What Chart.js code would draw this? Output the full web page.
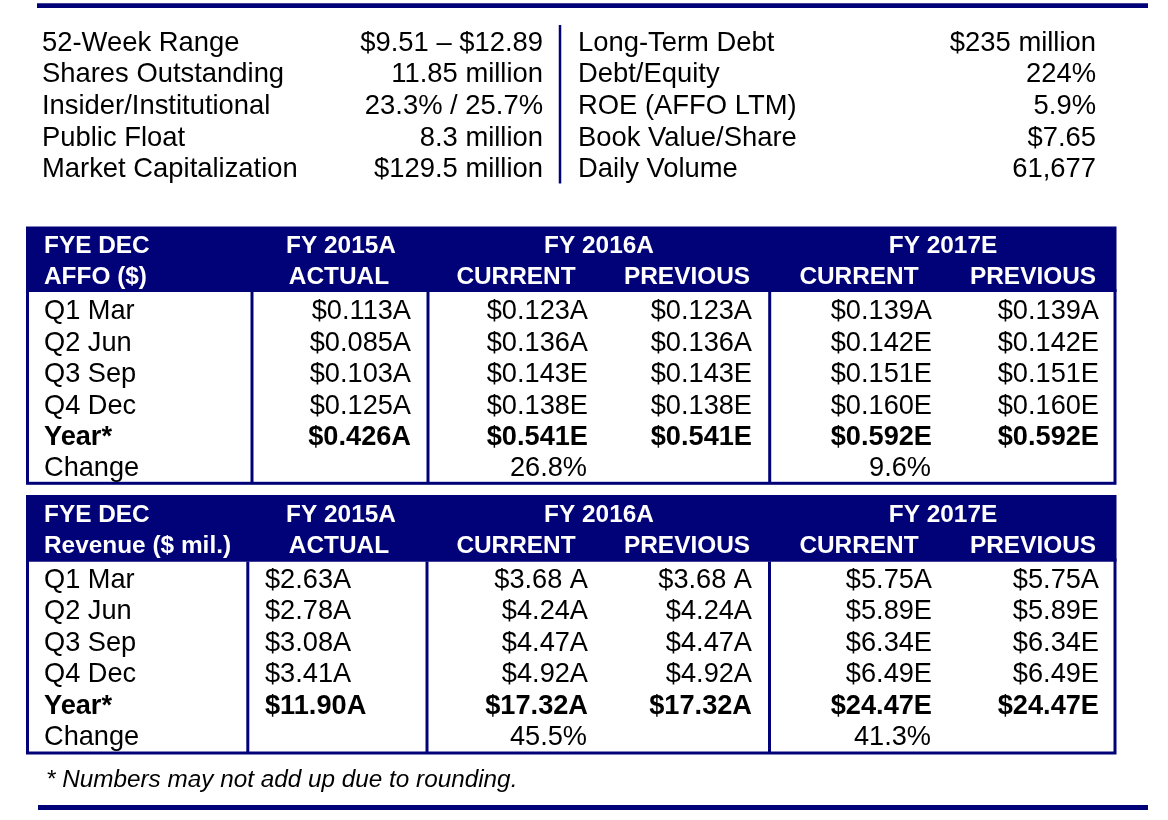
<!DOCTYPE html>
<html>
<head>
<meta charset="utf-8">
<script src="https://cdn.jsdelivr.net/npm/chart.js@4"></script>
<style>
  html, body { margin: 0; padding: 0; background: #ffffff; }
  #wrap { width: 1168px; height: 820px; }
  canvas { display: block; }
</style>
</head>
<body>
<div id="wrap"><canvas id="c" width="1168" height="820"></canvas></div>
<script>
// ---------------- DATA ----------------
const statLabelsLeft  = ['52-Week Range', 'Shares Outstanding', 'Insider/Institutional', 'Public Float', 'Market Capitalization'];
const statValuesLeft  = ['$9.51 – $12.89', '11.85 million', '23.3% / 25.7%', '8.3 million', '$129.5 million'];
const statLabelsRight = ['Long-Term Debt', 'Debt/Equity', 'ROE (AFFO LTM)', 'Book Value/Share', 'Daily Volume'];
const statValuesRight = ['$235 million', '224%', '5.9%', '$7.65', '61,677'];

const rowLabels   = ['Q1 Mar', 'Q2 Jun', 'Q3 Sep', 'Q4 Dec', 'Year*', 'Change'];
const yearHeaders = ['FY 2015A', 'FY 2016A', 'FY 2017E'];
const subHeaders  = ['ACTUAL', 'CURRENT', 'PREVIOUS', 'CURRENT', 'PREVIOUS'];
const affoTitle    = ['FYE DEC', 'AFFO ($)'];
const revenueTitle = ['FYE DEC', 'Revenue ($ mil.)'];

// AFFO per share ($): Q1..Q4, Year
const affo2015Actual   = [0.113, 0.085, 0.103, 0.125, 0.426];
const affo2015Flags    = ['A', 'A', 'A', 'A', 'A'];
const affo2016Current  = [0.123, 0.136, 0.143, 0.138, 0.541];
const affo2016Previous = [0.123, 0.136, 0.143, 0.138, 0.541];
const affo2016Flags    = ['A', 'A', 'E', 'E', 'E'];
const affo2017Current  = [0.139, 0.142, 0.151, 0.160, 0.592];
const affo2017Previous = [0.139, 0.142, 0.151, 0.160, 0.592];
const affo2017Flags    = ['A', 'E', 'E', 'E', 'E'];
const affoChange       = [null, 26.8, 9.6];

// Revenue ($ mil.): Q1..Q4, Year
const rev2015Actual   = [2.63, 2.78, 3.08, 3.41, 11.90];
const rev2015Flags    = ['A', 'A', 'A', 'A', 'A'];
const rev2016Current  = [3.68, 4.24, 4.47, 4.92, 17.32];
const rev2016Previous = [3.68, 4.24, 4.47, 4.92, 17.32];
const rev2016Flags    = [' A', 'A', 'A', 'A', 'A'];
const rev2017Current  = [5.75, 5.89, 6.34, 6.49, 24.47];
const rev2017Previous = [5.75, 5.89, 6.34, 6.49, 24.47];
const rev2017Flags    = ['A', 'E', 'E', 'E', 'E'];
const revChange       = [null, 45.5, 41.3];

const footnote = '* Numbers may not add up due to rounding.';

// ---------------- LAYOUT / STYLE ----------------
const NAVY = '#020278';
const FONT = '"Liberation Sans", Arial, sans-serif';
const L = {
  topRule: { x0: 37, x1: 1148, y: 5.7, w: 4.8 },
  botRule: { x0: 38, x1: 1148, y: 807.5, w: 5 },
  stats: { rows: [50.8, 82.3, 113.9, 145.5, 177], lx: 42, lvx: 543, rx: 578, rvx: 1096, divX: 560, divY0: 25, divY1: 183.5, size: 27.4 },
  tables: [
    { hy0: 226.5, hy1: 292, by1: 483.3, vlines: [252, 428, 769.7], hRows: [253, 284],
      rows: [319.3, 350.7, 382.2, 413.7, 445, 476.3], firstColLeft: null },
    { hy0: 495, hy1: 561.5, by1: 753, vlines: [247.8, 427, 769.5], hRows: [521.8, 552.8],
      rows: [587.6, 619, 650.5, 682, 713.5, 745], firstColLeft: 265 }
  ],
  x0: 26, x1: 1116.5,
  titleX: 44,
  yearCenters: [341, 599, 943],
  subCenters: [339, 516, 687, 859, 1033],
  colRight: [411, 588, 752, 932, 1099],
  bodySize: 27.2, headSize: 24.4,
  foot: { x: 46, y: 786.5, size: 24.3 }
};

function fmt(v, d, flag) { return '$' + v.toFixed(d) + flag; }

const tablesData = [
  { title: affoTitle, dec: 3,
    cols: [[affo2015Actual, affo2015Flags], [affo2016Current, affo2016Flags], [affo2016Previous, affo2016Flags],
           [affo2017Current, affo2017Flags], [affo2017Previous, affo2017Flags]],
    change: affoChange },
  { title: revenueTitle, dec: 2,
    cols: [[rev2015Actual, rev2015Flags], [rev2016Current, rev2016Flags], [rev2016Previous, rev2016Flags],
           [rev2017Current, rev2017Flags], [rev2017Previous, rev2017Flags]],
    change: revChange }
];

// ---------------- PLUGIN ----------------
const tablePlugin = {
  id: 'tablePlugin',
  afterDraw(chart) {
    const ctx = chart.ctx;
    const xs = chart.scales.x, ys = chart.scales.y;
    const X = v => xs.getPixelForValue(v);
    const Y = v => ys.getPixelForValue(v);
    ctx.save();
    ctx.textBaseline = 'alphabetic';

    const line = (x0, y0, x1, y1, w, col) => {
      ctx.beginPath(); ctx.strokeStyle = col; ctx.lineWidth = w;
      ctx.moveTo(X(x0), Y(y0)); ctx.lineTo(X(x1), Y(y1)); ctx.stroke();
    };
    const text = (s, x, y, align, font, col) => {
      ctx.font = font; ctx.fillStyle = col; ctx.textAlign = align;
      ctx.fillText(s, X(x), Y(y));
    };

    // rules
    line(L.topRule.x0, L.topRule.y, L.topRule.x1, L.topRule.y, L.topRule.w, NAVY);
    line(L.botRule.x0, L.botRule.y, L.botRule.x1, L.botRule.y, L.botRule.w, NAVY);

    // key stats
    const S = L.stats;
    const sf = `${S.size}px ${FONT}`;
    S.rows.forEach((y, i) => {
      text(statLabelsLeft[i], S.lx, y, 'left', sf, '#000');
      text(statValuesLeft[i], S.lvx, y, 'right', sf, '#000');
      text(statLabelsRight[i], S.rx, y, 'left', sf, '#000');
      text(statValuesRight[i], S.rvx, y, 'right', sf, '#000');
    });
    line(S.divX, S.divY0, S.divX, S.divY1, 2.5, NAVY);

    // tables
    const bf = `${L.bodySize}px ${FONT}`;
    const bbf = `bold ${L.bodySize}px ${FONT}`;
    const hf = `bold ${L.headSize}px ${FONT}`;
    L.tables.forEach((T, ti) => {
      const D = tablesData[ti];
      // header block
      ctx.fillStyle = NAVY;
      ctx.fillRect(X(L.x0), Y(T.hy0), X(L.x1) - X(L.x0), Y(T.hy1) - Y(T.hy0));
      // body frame
      ctx.strokeStyle = NAVY; ctx.lineWidth = 3;
      ctx.strokeRect(X(L.x0 + 1.5), Y(T.hy1 - 1.5), X(L.x1 - 1.5) - X(L.x0 + 1.5), Y(T.by1) - Y(T.hy1 - 1.5));
      T.vlines.forEach(vx => line(vx, T.hy1, vx, T.by1, 3, NAVY));
      // header text
      text(D.title[0], L.titleX, T.hRows[0], 'left', hf, '#fff');
      text(D.title[1], L.titleX, T.hRows[1], 'left', hf, '#fff');
      yearHeaders.forEach((h, i) => text(h, L.yearCenters[i], T.hRows[0], 'center', hf, '#fff'));
      subHeaders.forEach((h, i) => text(h, L.subCenters[i], T.hRows[1], 'center', hf, '#fff'));
      // rows
      rowLabels.forEach((lab, r) => {
        text(lab, L.titleX, T.rows[r], 'left', r === 4 ? bbf : bf, '#000');
      });
      D.cols.forEach((col, c) => {
        const vals = col[0], flags = col[1];
        vals.forEach((v, r) => {
          const s = fmt(v, D.dec, flags[r]);
          const f = r === 4 ? bbf : bf;
          if (c === 0 && T.firstColLeft !== null) text(s, T.firstColLeft, T.rows[r], 'left', f, '#000');
          else text(s, L.colRight[c], T.rows[r], 'right', f, '#000');
        });
      });
      D.change.forEach((v, i) => {
        if (v === null) return;
        const c = i === 1 ? 1 : 3;
        text(v.toFixed(1) + '%', L.colRight[c] - 1, T.rows[5], 'right', bf, '#000');
      });
    });

    // footnote
    text(footnote, L.foot.x, L.foot.y, 'left', `italic ${L.foot.size}px ${FONT}`, '#000');
    ctx.restore();
  }
};

new Chart(document.getElementById('c'), {
  type: 'scatter',
  data: { datasets: [{ data: [], pointRadius: 0 }] },
  options: {
    responsive: false,
    animation: false,
    devicePixelRatio: 1,
    layout: { padding: 0 },
    plugins: { legend: { display: false }, tooltip: { enabled: false } },
    scales: {
      x: { type: 'linear', min: 0, max: 1168, display: false },
      y: { type: 'linear', min: 0, max: 820, reverse: true, display: false }
    }
  },
  plugins: [tablePlugin]
});
</script>
</body>
</html>
